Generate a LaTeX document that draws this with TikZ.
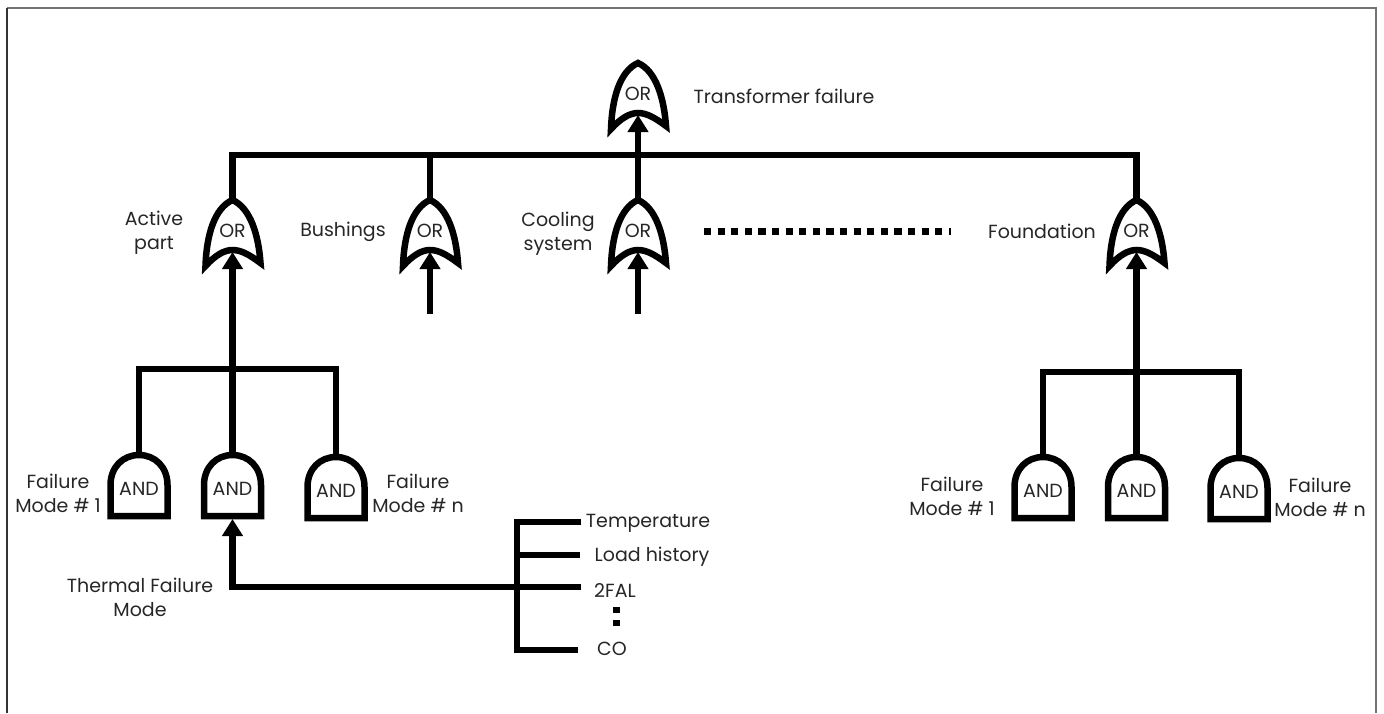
\documentclass[tikz,border=0pt]{standalone}
\usepackage{fontspec}
\setmainfont{Poppins}
\usetikzlibrary{arrows.meta}
\tikzset{
  wire/.style={line width=6.5pt},
  feed/.style={wire,-{Triangle[length=17pt,width=20pt]}},
  gateline/.style={line width=6.5pt,line join=miter,miter limit=10},
  lbl/.style={font=\fontsize{19}{24}\selectfont,align=center,text=black!85,inner sep=0pt,yshift=-2pt},
  dots/.style={line width=7pt,dash pattern=on 7.2pt off 6.4pt},
  orgate/.pic={
    \draw[gateline] (-27,66) .. controls (-26,35) and (-18,8) .. (0,0) .. controls (18,8) and (26,35) .. (28,63) .. controls (16,54) and (8,50) .. (0,50) .. controls (-8,50) and (-17,55) .. cycle;
    \node[lbl] (-name) at (0,29) {OR};
    \coordinate (-in) at (0,52);
    \coordinate (-out) at (0,0);
  },
  andgate/.pic={
    \draw[gateline] (-28.5,61) -- (-28.5,30) .. controls (-28.5,12) and (-16,0) .. (0,0) .. controls (16,0) and (28.5,12) .. (28.5,30) -- (28.5,61) -- cycle;
    \node[lbl] (-name) at (0,32) {AND};
    \coordinate (-in) at (0,64);
    \coordinate (-out) at (0,0);
  }
}
\begin{document}
\begin{tikzpicture}[x=1pt,y=-1pt]
\useasboundingbox (0,0) rectangle (1384,713);
\draw[line width=1.5pt,black!55] (7,8) -- (1376,8) -- (1376,713);
\draw[line width=1.5pt,black!80] (7,8) -- (7,713);

\pic (top) at (638,63) {orgate};
\pic (active) at (232.5,200) {orgate};
\pic (bush) at (430,200) {orgate};
\pic (cool) at (638,200) {orgate};
\pic (found) at (1136.5,200) {orgate};
\pic (andA) at (139,455) {andgate};
\pic (andB) at (232.5,455) {andgate};
\pic (andC) at (336,457) {andgate};
\pic (andD) at (1043,457) {andgate};
\pic (andE) at (1136.5,457) {andgate};
\pic (andF) at (1239,458) {andgate};

\coordinate (busL) at (232.5,155);
\coordinate (busB) at (430,155);
\coordinate (busC) at (638,155);
\coordinate (busF) at (1136.5,155);
\coordinate (leftA) at (139,369);
\coordinate (leftB) at (232.5,369);
\coordinate (leftC) at (336,369);
\coordinate (rightA) at (1043,372);
\coordinate (rightB) at (1136.5,372);
\coordinate (rightC) at (1239,372);
\coordinate (bushEnd) at (430,314);
\coordinate (coolEnd) at (638,314);
\coordinate (elbow) at (232.5,587);
\coordinate (barTop) at (517,522);
\coordinate (barBot) at (517,650);
\coordinate (barLoad) at (517,555);
\coordinate (dotsA) at (704,231);
\coordinate (dotsB) at (951,231);
\coordinate (vdotsA) at (616,607);
\coordinate (vdotsB) at (616,627);

\node[lbl] (nTrans) at (784,94) {Transformer failure};
\node[lbl] (nActive) at (154,231) {Active\\part};
\node[lbl] (nBush) at (343,230) {Bushings};
\node[lbl] (nCool) at (558,232) {Cooling\\system};
\node[lbl] (nFound) at (1042,229) {Foundation};
\node[lbl] (nModeA) at (58,491) {Failure\\Mode \# 1};
\node[lbl] (nModeB) at (418,491) {Failure\\Mode \# n};
\node[lbl] (nModeC) at (952,494) {Failure\\Mode \# 1};
\node[lbl] (nModeD) at (1320,495) {Failure\\Mode \# n};
\node[lbl] (nTherm) at (140,595) {Thermal Failure\\Mode};
\node[lbl] (nTemp) at (648,521) {Temperature};
\node[lbl] (nLoad) at (652,555) {Load history};
\node[lbl] (n2fal) at (615,588) {2FAL};
\node[lbl] (nCO) at (612,647) {CO};

\coordinate (stubTemp) at (581,522);
\coordinate (stubLoad) at (580,555);
\coordinate (stub2fal) at (581,587);
\coordinate (stubCO) at (578,650);

\draw[wire,line cap=rect] (busL) -- (busF);
\draw[wire] (busL) -- (active-out);
\draw[wire] (busB) -- (bush-out);
\draw[wire] (busF) -- (found-out);
\draw[feed] (cool-out) -- (top-in);
\draw[feed] (bushEnd) -- (bush-in);
\draw[feed] (coolEnd) -- (cool-in);
\draw[feed] (leftB) -- (active-in);
\draw[feed] (rightB) -- (found-in);
\draw[wire,line join=miter] (andA-out) -- (leftA) -- (leftC) -- (andC-out);
\draw[wire] (leftB) -- (andB-out);
\draw[wire,line join=miter] (andD-out) -- (rightA) -- (rightC) -- (andF-out);
\draw[wire] (rightB) -- (andE-out);
\draw[feed] (stub2fal) -- (elbow) -- (andB-in);
\draw[wire,line join=miter] (stubTemp) -- (barTop) -- (barBot) -- (stubCO);
\draw[wire] (barLoad) -- (stubLoad);
\draw[dots] (dotsA) -- (dotsB);
\draw[dots,dash pattern=on 6pt off 7pt] (vdotsA) -- (vdotsB);
\end{tikzpicture}
\end{document}
